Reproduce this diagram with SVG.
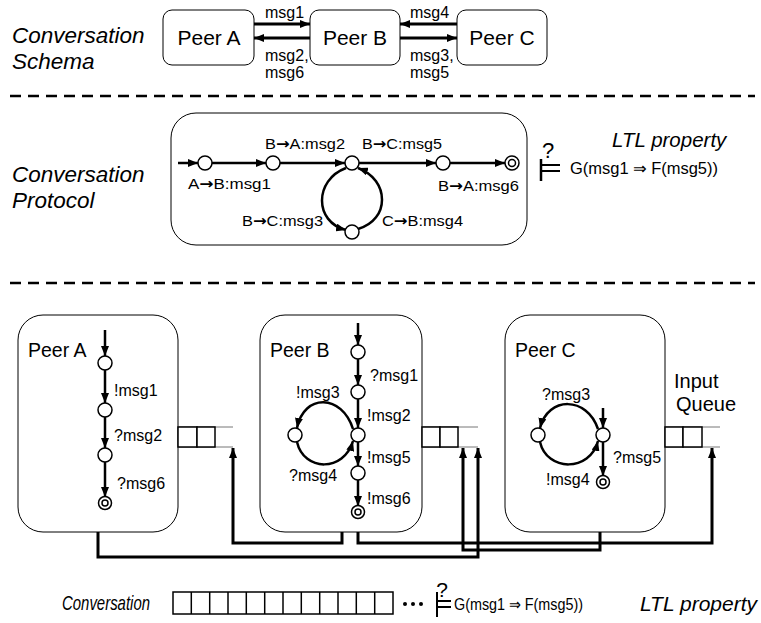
<svg xmlns="http://www.w3.org/2000/svg" width="761" height="623" viewBox="0 0 761 623">
<defs>
<marker id="ah" viewBox="0 0 10 8" refX="10" refY="4" markerWidth="10" markerHeight="8" markerUnits="userSpaceOnUse" orient="auto"><path d="M0,0 L10,4 L0,8 z" fill="#000"/></marker>
</defs>
<style>
.t{font-family:"Liberation Sans",Arial,sans-serif;fill:#000}
.i{font-style:italic}
.ar{font-family:"DejaVu Sans",sans-serif;font-weight:bold}
.box{fill:#fff;stroke:#000;stroke-width:1}
.st{fill:#fff;stroke:#000;stroke-width:1.5}
.tr{fill:none;stroke:#000;stroke-width:2.5;marker-end:url(#ah)}
.ca{fill:none;stroke:#000;stroke-width:3;marker-end:url(#ah)}
.dash{stroke:#000;stroke-width:2.5;stroke-dasharray:11,7}
.q{fill:#fff;stroke:#000;stroke-width:1.5}
.ql{stroke:#777;stroke-width:1}
.pl{font-size:15px}
.sl{font-size:16px}
</style>
<rect width="761" height="623" fill="#fff"/>

<!-- Section labels -->
<text class="t i" x="12" y="43" font-size="22.5">Conversation</text>
<text class="t i" x="12" y="69" font-size="22.5">Schema</text>
<text class="t i" x="12" y="182" font-size="22.5">Conversation</text>
<text class="t i" x="12" y="208" font-size="22.5">Protocol</text>

<line class="dash" x1="10" y1="96" x2="755" y2="96"/>
<line class="dash" x1="10" y1="283" x2="755" y2="283"/>

<!-- Schema -->
<g id="schema-peerA"><rect class="box" x="163" y="10" width="91" height="55" rx="9"/><text class="t" x="209" y="45" font-size="21" text-anchor="middle">Peer A</text></g>
<g id="schema-peerB"><rect class="box" x="310" y="10" width="90" height="55" rx="9"/><text class="t" x="355" y="45" font-size="21" text-anchor="middle">Peer B</text></g>
<g id="schema-peerC"><rect class="box" x="457" y="10" width="90" height="55" rx="9"/><text class="t" x="502" y="45" font-size="21" text-anchor="middle">Peer C</text></g>
<g id="schema-edges">
<line class="ca" x1="254" y1="24" x2="310" y2="24"/>
<line class="ca" x1="310" y1="38" x2="254" y2="38"/>
<line class="ca" x1="457" y1="24" x2="400" y2="24"/>
<line class="ca" x1="400" y1="38" x2="457" y2="38"/>
<text class="t" x="265" y="18" font-size="16">msg1</text>
<text class="t" x="265" y="61" font-size="16">msg2,</text>
<text class="t" x="265" y="78" font-size="16">msg6</text>
<text class="t" x="410" y="18" font-size="16">msg4</text>
<text class="t" x="410" y="61" font-size="16">msg3,</text>
<text class="t" x="410" y="78" font-size="16">msg5</text>
</g>

<!-- Protocol -->
<g id="protocol">
<rect class="box" x="171" y="113" width="356" height="132" rx="25"/>
<g id="protocol-edges">
<line class="tr" x1="178" y1="163" x2="198" y2="163"/>
<line class="tr" x1="212" y1="163" x2="266" y2="163"/>
<line class="tr" x1="280" y1="163" x2="345" y2="163"/>
<line class="tr" x1="359" y1="163" x2="436" y2="163"/>
<line class="tr" x1="450" y1="163" x2="505" y2="163"/>
<path class="tr" d="M346 168 C314 180 314 222 346 230"/>
<path class="tr" d="M358 229 C390 220 390 180 358 168"/>
</g>
<circle class="st" cx="205" cy="163" r="7"/>
<circle class="st" cx="273" cy="163" r="7"/>
<circle class="st" cx="352" cy="163" r="7"/>
<circle class="st" cx="443" cy="163" r="7"/>
<circle class="st" cx="352" cy="232" r="7"/>
<circle class="st" cx="512" cy="163" r="7"/>
<circle fill="none" stroke="#000" stroke-width="1.5" cx="512" cy="163" r="3.5"/>
<text class="t pl" x="188" y="189" textLength="83" lengthAdjust="spacingAndGlyphs">A<tspan class="ar">→</tspan>B:msg1</text>
<text class="t pl" x="265" y="149" textLength="80" lengthAdjust="spacingAndGlyphs">B<tspan class="ar">→</tspan>A:msg2</text>
<text class="t pl" x="362" y="149" textLength="80" lengthAdjust="spacingAndGlyphs">B<tspan class="ar">→</tspan>C:msg5</text>
<text class="t pl" x="438" y="191" textLength="81" lengthAdjust="spacingAndGlyphs">B<tspan class="ar">→</tspan>A:msg6</text>
<text class="t pl" x="242" y="226" textLength="81" lengthAdjust="spacingAndGlyphs">B<tspan class="ar">→</tspan>C:msg3</text>
<text class="t pl" x="382" y="226" textLength="81" lengthAdjust="spacingAndGlyphs">C<tspan class="ar">→</tspan>B:msg4</text>
</g>
<g id="protocol-ltl">
<line x1="541" y1="159" x2="541" y2="181" stroke="#000" stroke-width="2.5"/>
<line x1="541" y1="165" x2="560" y2="165" stroke="#000" stroke-width="2"/>
<line x1="541" y1="171" x2="560" y2="171" stroke="#000" stroke-width="2"/>
<text class="t" x="548" y="158" font-size="22" text-anchor="middle">?</text>
<text class="t" x="570" y="174" font-size="16" textLength="148" lengthAdjust="spacingAndGlyphs">G(msg1 ⇒ F(msg5))</text>
<text class="t i" x="612" y="147" font-size="20.5">LTL property</text>
</g>

<!-- Peer A -->
<g id="peerA">
<rect class="box" x="18" y="315" width="160" height="217" rx="25"/>
<text class="t" x="28" y="357" font-size="19.5">Peer A</text>
<line class="tr" x1="105" y1="330" x2="105" y2="356"/>
<line class="tr" x1="105" y1="370" x2="105" y2="403"/>
<line class="tr" x1="105" y1="417" x2="105" y2="448"/>
<line class="tr" x1="105" y1="462" x2="105" y2="497"/>
<circle class="st" cx="105" cy="363" r="7"/>
<circle class="st" cx="105" cy="410" r="7"/>
<circle class="st" cx="105" cy="455" r="7"/>
<circle class="st" cx="105" cy="503" r="6.5"/>
<circle fill="none" stroke="#000" stroke-width="1.5" cx="105" cy="503" r="3"/>
<text class="t sl" x="114" y="396">!msg1</text>
<text class="t sl" x="114" y="441">?msg2</text>
<text class="t sl" x="117" y="489">?msg6</text>
</g>
<g id="queueA">
<line class="ql" x1="178" y1="427" x2="233" y2="427"/>
<line class="ql" x1="178" y1="447" x2="233" y2="447"/>
<rect class="q" x="178" y="427" width="19" height="20"/>
<rect class="q" x="197" y="427" width="18" height="20"/>
</g>

<!-- Peer B -->
<g id="peerB">
<rect class="box" x="260" y="315" width="162" height="217" rx="25"/>
<text class="t" x="270" y="357" font-size="19.5">Peer B</text>
<line class="tr" x1="358" y1="323" x2="358" y2="345"/>
<line class="tr" x1="358" y1="359" x2="358" y2="385"/>
<line class="tr" x1="358" y1="399" x2="358" y2="428"/>
<line class="tr" x1="358" y1="442" x2="358" y2="466"/>
<line class="tr" x1="358" y1="480" x2="358" y2="506"/>
<path class="tr" d="M353 429 C342 394 304 393 297 428"/>
<path class="tr" d="M297 442 C304 472 344 472 353 441"/>
<circle class="st" cx="358" cy="352" r="7"/>
<circle class="st" cx="358" cy="392" r="7"/>
<circle class="st" cx="358" cy="435" r="7"/>
<circle class="st" cx="295" cy="435" r="7"/>
<circle class="st" cx="358" cy="473" r="7"/>
<circle class="st" cx="358" cy="512" r="6.5"/>
<circle fill="none" stroke="#000" stroke-width="1.5" cx="358" cy="512" r="3"/>
<text class="t sl" x="370" y="381">?msg1</text>
<text class="t sl" x="296" y="398">!msg3</text>
<text class="t sl" x="367" y="421">!msg2</text>
<text class="t sl" x="367" y="463">!msg5</text>
<text class="t sl" x="289" y="481">?msg4</text>
<text class="t sl" x="367" y="504">!msg6</text>
</g>
<g id="queueB">
<line class="ql" x1="422" y1="427" x2="478" y2="427"/>
<line class="ql" x1="422" y1="447" x2="478" y2="447"/>
<rect class="q" x="422" y="427" width="18" height="20"/>
<rect class="q" x="440" y="427" width="18" height="20"/>
</g>

<!-- Peer C -->
<g id="peerC">
<rect class="box" x="505" y="315" width="160" height="217" rx="25"/>
<text class="t" x="515" y="357" font-size="19.5">Peer C</text>
<line class="tr" x1="603" y1="408" x2="603" y2="428"/>
<line class="tr" x1="603" y1="442" x2="603" y2="476"/>
<path class="tr" d="M598 429 C587 396 548 396 540 428"/>
<path class="tr" d="M540 442 C547 472 590 472 598 441"/>
<circle class="st" cx="603" cy="435" r="7"/>
<circle class="st" cx="538" cy="435" r="7"/>
<circle class="st" cx="603" cy="482" r="6.5"/>
<circle fill="none" stroke="#000" stroke-width="1.5" cx="603" cy="482" r="3"/>
<text class="t sl" x="542" y="400">?msg3</text>
<text class="t sl" x="613" y="463">?msg5</text>
<text class="t sl" x="546" y="485">!msg4</text>
</g>
<g id="queueC">
<line class="ql" x1="665" y1="427" x2="720" y2="427"/>
<line class="ql" x1="665" y1="447" x2="720" y2="447"/>
<rect class="q" x="665" y="427" width="18" height="20"/>
<rect class="q" x="683" y="427" width="19" height="20"/>
<text class="t" x="674" y="388" font-size="20">Input</text>
<text class="t" x="676" y="411" font-size="20">Queue</text>
</g>

<!-- Connectors between peers and queues -->
<g id="connectors">
<path class="ca" d="M98 532 V557 H478 V448"/>
<path class="ca" d="M342 532 V543 H233 V448"/>
<path class="ca" d="M358 532 V543 H712 V448"/>
<path class="ca" d="M600 532 V550 H463 V448"/>
</g>

<!-- Bottom conversation -->
<g id="conversation">
<text class="t i" x="62" y="610" font-size="21" textLength="88" lengthAdjust="spacingAndGlyphs">Conversation</text>
<rect x="173" y="592" width="220" height="22" fill="#fff" stroke="#000" stroke-width="1.5"/>
<g stroke="#000" stroke-width="1.5">
<line x1="191.3" y1="592" x2="191.3" y2="614"/>
<line x1="209.7" y1="592" x2="209.7" y2="614"/>
<line x1="228" y1="592" x2="228" y2="614"/>
<line x1="246.3" y1="592" x2="246.3" y2="614"/>
<line x1="264.7" y1="592" x2="264.7" y2="614"/>
<line x1="283" y1="592" x2="283" y2="614"/>
<line x1="301.3" y1="592" x2="301.3" y2="614"/>
<line x1="319.7" y1="592" x2="319.7" y2="614"/>
<line x1="338" y1="592" x2="338" y2="614"/>
<line x1="356.3" y1="592" x2="356.3" y2="614"/>
<line x1="374.7" y1="592" x2="374.7" y2="614"/>
</g>
<circle cx="405" cy="604" r="2" fill="#000"/>
<circle cx="413" cy="604" r="2" fill="#000"/>
<circle cx="421" cy="604" r="2" fill="#000"/>
<line x1="437" y1="592" x2="437" y2="617" stroke="#000" stroke-width="2"/>
<line x1="437" y1="601" x2="451" y2="601" stroke="#000" stroke-width="2"/>
<line x1="437" y1="607" x2="451" y2="607" stroke="#000" stroke-width="2"/>
<text class="t" x="442" y="597" font-size="21" text-anchor="middle">?</text>
<text class="t" x="454" y="610" font-size="16" textLength="129" lengthAdjust="spacingAndGlyphs">G(msg1 ⇒ F(msg5))</text>
<text class="t i" x="640" y="611" font-size="21" textLength="117" lengthAdjust="spacingAndGlyphs">LTL property</text>
</g>
</svg>
